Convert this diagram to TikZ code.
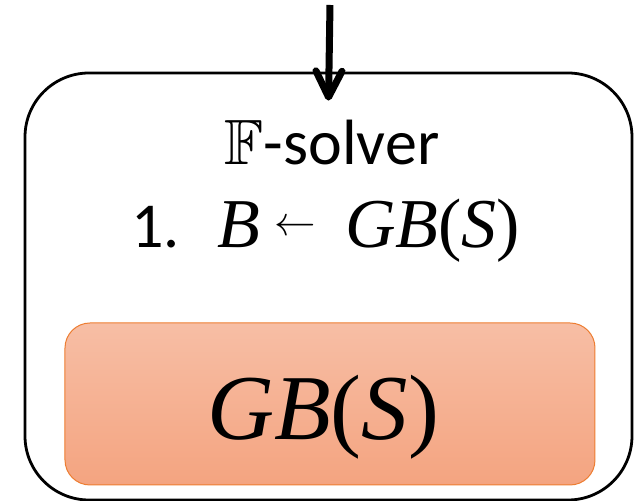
\documentclass[tikz,border=0pt]{standalone}
\usepackage{fontspec}
\usepackage{amssymb}
\setmainfont{Carlito}
% letters and signs of the formulas
\newfontfamily\mathserif{Liberation Serif}
\newcommand{\mv}[1]{{\mathserif\itshape #1}}
\newcommand{\mup}[1]{{\mathserif #1}}
\newcommand{\getsarrow}{\raisebox{6pt}{\fontsize{20.74}{24}\selectfont$\leftarrow$}}
\usetikzlibrary{arrows.meta}
\definecolor{gbtop}{HTML}{F7BEA5}
\definecolor{gbbot}{HTML}{F4A480}
\definecolor{gbedge}{HTML}{ED7D31}

\begin{document}
\begin{tikzpicture}[x=0.5pt, y=-0.5pt,
  solver/.style={rectangle, rounded corners=32pt, draw, line width=1.4pt,
                 minimum width=303.5pt, minimum height=213.5pt, inner sep=0pt},
  gbbox/.style={rectangle, rounded corners=12.5pt, draw=gbedge, line width=0.5pt,
                top color=gbtop, bottom color=gbbot,
                minimum width=265pt, minimum height=81pt, inner sep=0pt},
  label/.style={font=\fontsize{32}{36}\selectfont, inner sep=0pt},
  arrow/.style={-{Straight Barb[length=13pt, width=13pt, round]}, line width=3.5pt}
]
\useasboundingbox (0,0) rectangle (634,501);
\node[solver] (solver) at (328.5,286.5) {};
\node[gbbox] (gb) at (330,404) {};
\node[label, anchor=base] (title) at (332,165) {$\mathbb{F}$-solver};
\node[label, anchor=base west] (step) at (131,248)
  {1.\hspace{19pt}{\fontsize{35}{40}\selectfont\mv{B}\hspace{7pt}\getsarrow\hspace{14.5pt}\mv{GB}\mup{(}\mv{S}\mup{)}}};
\node[anchor=base, inner sep=0pt, font=\fontsize{46.4}{52}\selectfont] (gbtext) at (323,440)
  {\mv{GB}\mup{(}\mv{S}\mup{)}};

\coordinate (in) at (330,5);
\draw[arrow] (in) -- ([yshift=-14.5pt]solver.north);
\end{tikzpicture}
\end{document}
